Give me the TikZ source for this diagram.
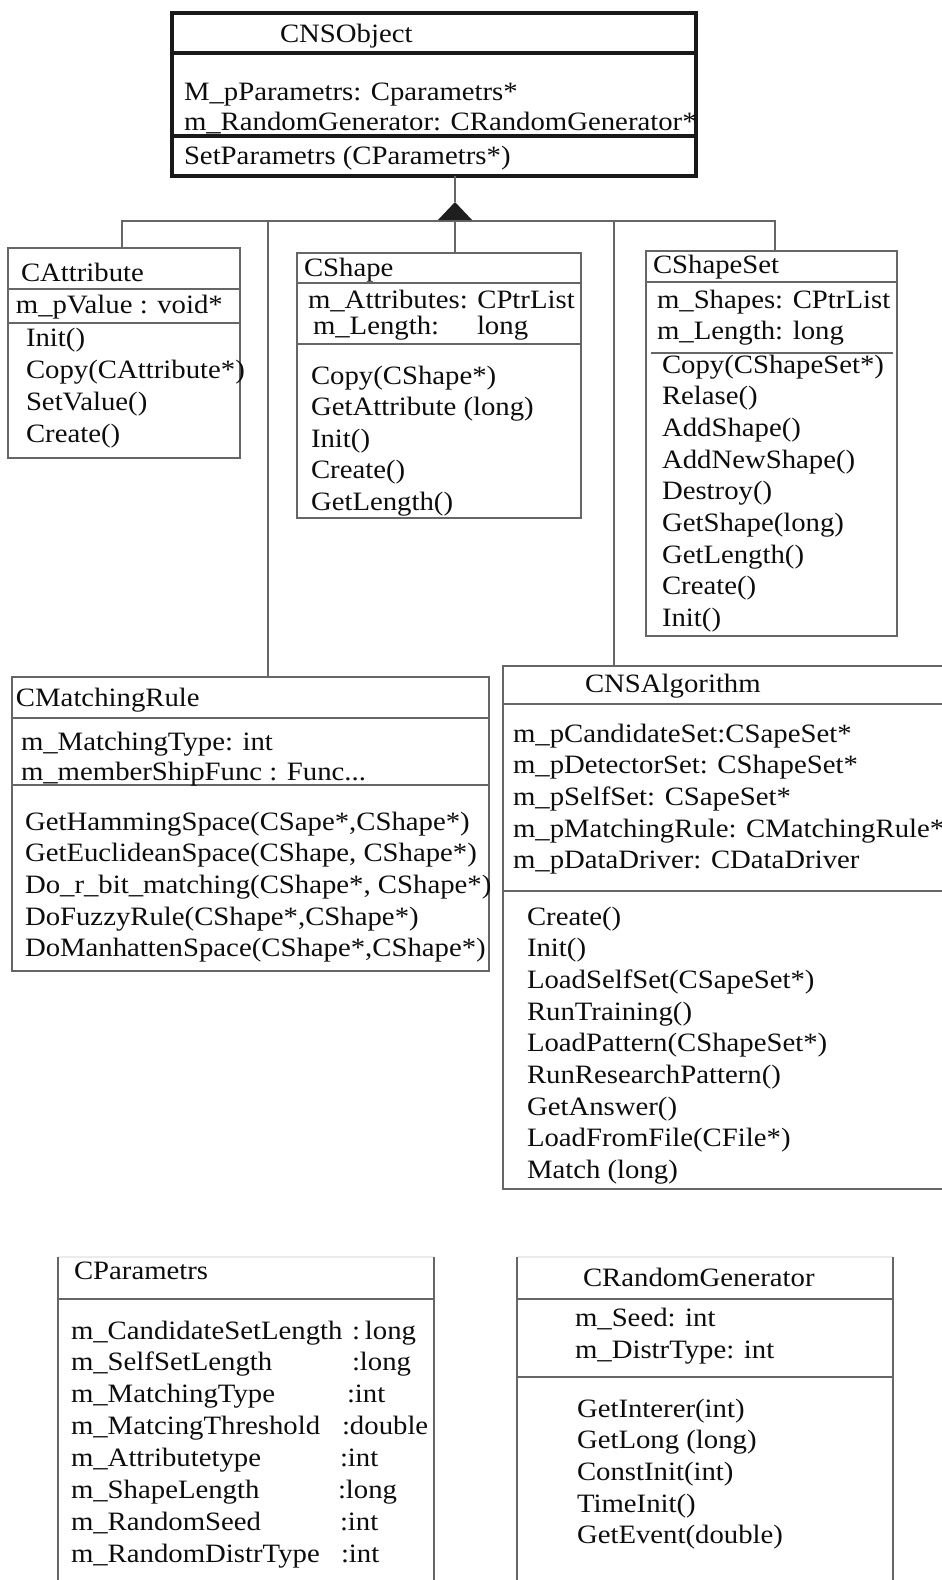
\documentclass[tikz,border=0pt]{standalone}
\usepackage{fontspec}
\setmainfont[FakeStretch=1.085]{Liberation Serif}
\newcommand\umllines[5]{%
  \foreach \itm [count=\ii] in {#5} {\node[txt] (#1-\ii) at ({#2},{#3+(\ii-1)*#4}) {\itm};}}
\newcommand\divider[3][thin]{%
  \draw[#1] ([yshift=-#3pt]#2.north west) -- ([yshift=-#3pt]#2.north east);}
\begin{document}
\begin{tikzpicture}[x=1pt,y=-1pt,
  txt/.style={anchor=base west, inner sep=0pt, outer sep=0pt, text=black!95,
    font=\fontsize{26.5}{31.6}\selectfont},
  box/.style={draw=black!60, line width=1.4pt, anchor=north west, inner sep=0pt, outer sep=0pt},
  bigbox/.style={draw=black!90, line width=4pt, anchor=north west, inner sep=0pt, outer sep=0pt},
  hidden/.style={anchor=north west, inner sep=0pt, outer sep=0pt},
  thin/.style={draw=black!60, line width=1.4pt},
  thick/.style={draw=black!90, line width=4pt},
  faint/.style={draw=black!8, line width=1.2pt},
  conn/.style={draw=black!60, line width=1.4pt}]
\useasboundingbox[fill=white] (0,0) rectangle (942,1580);

% ---------- CNSObject ----------
\node[bigbox, minimum width=524pt, minimum height=163pt] (cnsobj) at (172,13) {};
\divider[thick]{cnsobj}{40}
\divider[thick]{cnsobj}{123}
\node[txt] (cnsobj-t) at (280,42) {CNSObject};
\node[txt] (cnsobj-a1) at (184,100) {M\_pParametrs: Cparametrs*};
\node[txt] (cnsobj-a2) at (184,130) {m\_RandomGenerator: CRandomGenerator*};
\node[txt] (cnsobj-m1) at (184,164) {SetParametrs (CParametrs*)};

% ---------- CAttribute ----------
\node[box, minimum width=232pt, minimum height=210pt] (cattr) at (8,248) {};
\divider{cattr}{41}
\divider{cattr}{75}
\node[txt] (cattr-t) at (21,281) {CAttribute};
\node[txt] (cattr-a1) at (16,313) {m\_pValue : void*};
\umllines{cattr-m}{26}{346}{32}{Init(), {Copy(CAttribute*)}, SetValue(), Create()}

% ---------- CShape ----------
\node[box, minimum width=284pt, minimum height=265pt] (cshape) at (297,253) {};
\divider{cshape}{30}
\divider{cshape}{91}
\node[txt] (cshape-t) at (304,276) {CShape};
\node[txt] (cshape-a1) at (308,308) {m\_Attributes: CPtrList};
\node[txt] (cshape-a2) at (313,334) {m\_Length:};
\node[txt] (cshape-a2b) at (477,334) {long};
\umllines{cshape-m}{311}{384}{31.5}{Copy(CShape*), GetAttribute (long), Init(), Create(), GetLength()}

% ---------- CShapeSet ----------
\node[box, minimum width=251pt, minimum height=385pt] (csset) at (646,251) {};
\divider{csset}{31}
\draw[thin] ([xshift=5pt,yshift=-102pt]csset.north west) -- ([xshift=-4pt,yshift=-102pt]csset.north east);
\node[txt] (csset-t) at (653,273) {CShapeSet};
\umllines{csset-a}{657}{308}{31.5}{m\_Shapes: CPtrList, m\_Length: long}
\umllines{csset-m}{662}{373}{31.7}{Copy(CShapeSet*), Relase(), AddShape(), AddNewShape(), Destroy(), GetShape(long), GetLength(), Create(), Init()}

% ---------- CMatchingRule ----------
\node[box, minimum width=477pt, minimum height=294pt] (cmatch) at (12,677) {};
\divider{cmatch}{41}
\divider{cmatch}{108}
\node[txt] (cmatch-t) at (16,706) {CMatchingRule};
\node[txt] (cmatch-a1) at (21,750) {m\_MatchingType: int};
\node[txt] (cmatch-a2) at (21,780) {m\_memberShipFunc : Func...};
\umllines{cmatch-m}{25}{830}{31.7}{{GetHammingSpace(CSape*,CShape*)}, {GetEuclideanSpace(CShape, CShape*)}, {Do\_r\_bit\_matching(CShape*, CShape*)}, {DoFuzzyRule(CShape*,CShape*)}, {DoManhattenSpace(CShape*,CShape*)}}

% ---------- CNSAlgorithm ----------
\node[hidden, minimum width=441pt, minimum height=523pt] (cnsalg) at (503,666) {};
\draw[thin] (cnsalg.north east) -- (cnsalg.north west) -- (cnsalg.south west) -- (cnsalg.south east);
\divider{cnsalg}{38}
\divider{cnsalg}{225}
\node[txt] (cnsalg-t) at (585,692) {CNSAlgorithm};
\umllines{cnsalg-a}{513}{742}{31.7}{m\_pCandidateSet:CSapeSet*, m\_pDetectorSet: CShapeSet*, m\_pSelfSet: CSapeSet*, m\_pMatchingRule: CMatchingRule*, m\_pDataDriver: CDataDriver}
\umllines{cnsalg-m}{527}{925}{31.7}{Create(), Init(), LoadSelfSet(CSapeSet*), RunTraining(), LoadPattern(CShapeSet*), RunResearchPattern(), GetAnswer(), LoadFromFile(CFile*), Match (long)}

% ---------- CParametrs ----------
\node[hidden, minimum width=376pt, minimum height=325pt] (cparam) at (58,1257) {};
\draw[faint] (cparam.north west) -- (cparam.north east);
\draw[thin] (cparam.north west) -- (cparam.south west);
\draw[thin] (cparam.north east) -- (cparam.south east);
\divider{cparam}{42}
\node[txt] (cparam-t) at (74,1279) {CParametrs};
\umllines{cparam-a}{71}{1339}{31.9}{m\_CandidateSetLength, m\_SelfSetLength, m\_MatchingType, m\_MatcingThreshold, m\_Attributetype, m\_ShapeLength, m\_RandomSeed, m\_RandomDistrType}
\node[txt] (cparam-y1) at (352,1339) {:\hspace{5pt}long};
\node[txt] (cparam-y2) at (352,1370.9) {:long};
\node[txt] (cparam-y3) at (347,1402.8) {:int};
\node[txt] (cparam-y4) at (342,1434.7) {:double};
\node[txt] (cparam-y5) at (340,1466.6) {:int};
\node[txt] (cparam-y6) at (338,1498.5) {:long};
\node[txt] (cparam-y7) at (340,1530.4) {:int};
\node[txt] (cparam-y8) at (341,1562.3) {:int};

% ---------- CRandomGenerator ----------
\node[hidden, minimum width=376pt, minimum height=325pt] (crand) at (517,1257) {};
\draw[faint] (crand.north west) -- (crand.north east);
\draw[thin] (crand.north west) -- (crand.south west);
\draw[thin] (crand.north east) -- (crand.south east);
\divider{crand}{42}
\divider{crand}{120}
\node[txt] (crand-t) at (583,1286) {CRandomGenerator};
\umllines{crand-a}{575}{1326}{32}{m\_Seed: int, m\_DistrType: int}
\umllines{crand-m}{577}{1417}{31.7}{GetInterer(int), GetLong (long), ConstInit(int), TimeInit(), GetEvent(double)}

% ---------- inheritance connectors ----------
\coordinate (apex) at (455,202);
\coordinate (busL) at (122,221);
\coordinate (b2) at (268,221);
\coordinate (b3) at (455,221);
\coordinate (b4) at (614,221);
\coordinate (busR) at (775,221);
\draw[conn] (cnsobj.south -| apex) -- (apex);
\draw[conn] (busL |- cattr.north) -- (busL) -- (busR) -- (busR |- csset.north);
\draw[conn] (b2) -- (b2 |- cmatch.north);
\draw[conn] (b3) -- (b3 |- cshape.north);
\draw[conn] (b4) -- (b4 |- cnsalg.north);
\fill[black!88] (apex) -- ++(-17,18) -- ++(34,0) -- cycle;
\end{tikzpicture}
\end{document}
